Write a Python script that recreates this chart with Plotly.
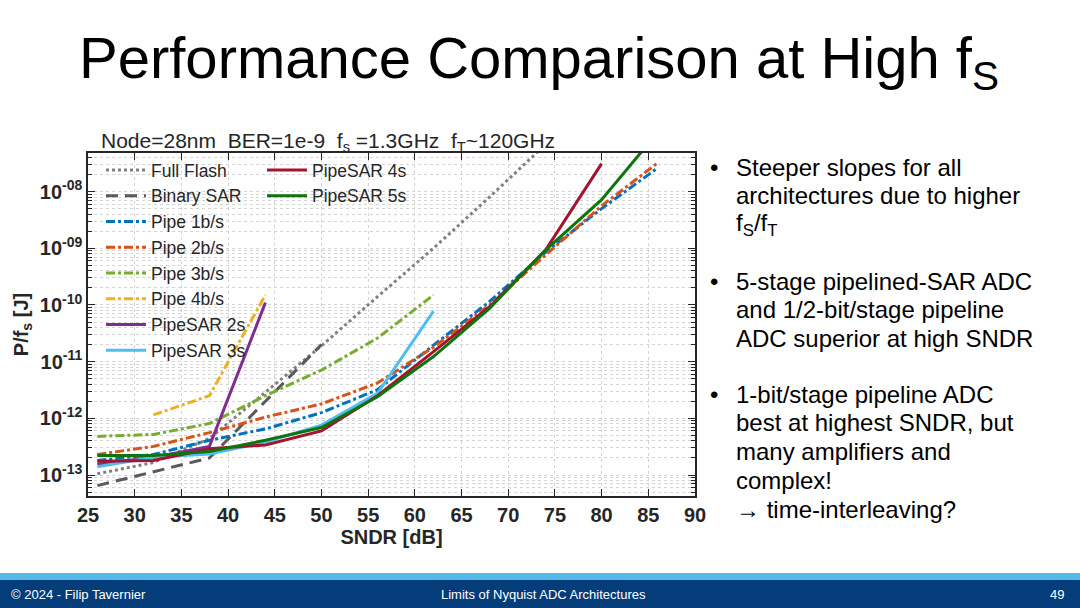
import plotly.graph_objects as go

# ---------------- data (SNDR in dB, P/fs in J) ----------------
sndr_flash = [26, 32, 38, 44, 50, 56, 62, 68, 74]
full_flash = [1.05e-13, 1.66e-13, 4.4e-13, 2.9e-12, 1.9e-11, 1.4e-10, 1.0e-9, 8.0e-9, 6.8e-8]

sndr_bsar = [26, 32, 38, 44, 50]
binary_sar = [6.5e-14, 1.15e-13, 2.0e-13, 2.0e-12, 2.0e-11]

sndr_pipe12 = [26, 32, 38, 44, 50, 56, 62, 68, 74, 80, 86]
pipe_1b = [1.8e-13, 2.3e-13, 4.1e-13, 6.5e-13, 1.26e-12, 3.2e-12, 1.95e-11, 1.15e-10, 8.5e-10, 5.0e-9, 2.6e-8]
pipe_2b = [2.3e-13, 3.2e-13, 5.6e-13, 1.05e-12, 1.8e-12, 4.2e-12, 1.8e-11, 1.0e-10, 7.6e-10, 5.6e-9, 3.2e-8]

sndr_pipe3 = [26, 32, 38, 44, 50, 56, 62]
pipe_3b = [4.8e-13, 5.2e-13, 8.1e-13, 2.5e-12, 7.1e-12, 2.6e-11, 1.5e-10]

sndr_pipe4 = [32, 38, 44]
pipe_4b = [1.15e-12, 2.5e-12, 1.5e-10]

sndr_psar2 = [26, 32, 38, 44]
pipesar_2s = [1.55e-13, 2.05e-13, 3.2e-13, 1.1e-10]

sndr_psar3 = [26, 32, 38, 44, 50, 56, 62]
pipesar_3s = [1.4e-13, 2.05e-13, 2.35e-13, 3.8e-13, 7.6e-13, 2.75e-12, 7.8e-11]

sndr_psar4 = [26, 32, 38, 44, 50, 56, 62, 68, 74, 80]
pipesar_4s = [1.75e-13, 1.8e-13, 2.9e-13, 3.4e-13, 6.0e-13, 2.5e-12, 1.5e-11, 9.3e-11, 9.3e-10, 3.1e-8]

sndr_psar5 = [26, 32, 38, 44, 50, 56, 62, 68, 74, 80, 86]
pipesar_5s = [2.2e-13, 2.2e-13, 2.6e-13, 4.1e-13, 6.9e-13, 2.4e-12, 1.23e-11, 8.7e-11, 9.3e-10, 7.2e-9, 1.1e-7]

x_ticks = [25, 30, 35, 40, 45, 50, 55, 60, 65, 70, 75, 80, 85, 90]
y_tickvals = [1e-13, 1e-12, 1e-11, 1e-10, 1e-9, 1e-8]
y_ticktext = ["10<sup>-13</sup>", "10<sup>-12</sup>", "10<sup>-11</sup>",
              "10<sup>-10</sup>", "10<sup>-09</sup>", "10<sup>-08</sup>"]
y_minor = [m * 10.0 ** e for e in range(-14, -6) for m in range(2, 10)]

bullets = [
    ["Steeper slopes for all", "architectures due to higher", "f<sub>S</sub>/f<sub>T</sub>"],
    ["5-stage pipelined-SAR ADC", "and 1/2-bit/stage pipeline", "ADC superior at high SNDR"],
    ["1-bit/stage pipeline ADC", "best at highest SNDR, but", "many amplifiers and",
     "complex!", "\u2192 time-interleaving?"],
]

# ---------------- layout geometry ----------------
W, H = 1080, 608
L, R, T, B = 88, 695, 153, 496
FONT = "Liberation Sans, Arial, Helvetica, sans-serif"


def xp(px):
    return (px - L) / (R - L)


def yp(py):
    return (B - py) / (B - T)


fig = go.Figure()

series = [
    ("Full Flash", sndr_flash, full_flash, "#808080", "dot", 3, "legend"),
    ("Binary SAR", sndr_bsar, binary_sar, "#5a5a5a", "12px,7px", 3, "legend"),
    ("Pipe 1b/s", sndr_pipe12, pipe_1b, "#0072BD", "dashdot", 3, "legend"),
    ("Pipe 2b/s", sndr_pipe12, pipe_2b, "#D95319", "dashdot", 3, "legend"),
    ("Pipe 3b/s", sndr_pipe3, pipe_3b, "#77AC30", "dashdot", 3, "legend"),
    ("Pipe 4b/s", sndr_pipe4, pipe_4b, "#EDB120", "dashdot", 3, "legend"),
    ("PipeSAR 2s", sndr_psar2, pipesar_2s, "#7E2F8E", "solid", 3, "legend"),
    ("PipeSAR 3s", sndr_psar3, pipesar_3s, "#4DBEEE", "solid", 3, "legend"),
    ("PipeSAR 4s", sndr_psar4, pipesar_4s, "#A2142F", "solid", 3, "legend2"),
    ("PipeSAR 5s", sndr_psar5, pipesar_5s, "#0E750E", "solid", 3, "legend2"),
]
for name, xs, ys, col, dash, w, lg in series:
    fig.add_trace(go.Scatter(x=xs, y=ys, mode="lines", name=name,
                             line=dict(color=col, dash=dash, width=w),
                             legend=lg, cliponaxis=True))

axis_col = "#262626"
grid_col = "#d4d4d4"

fig.update_xaxes(
    range=[25, 90], tickvals=x_ticks, ticks="inside", ticklen=7, tickwidth=1,
    tickcolor=axis_col, showline=True, linecolor=axis_col, linewidth=1.5, mirror="allticks",
    showgrid=True, gridcolor=grid_col, griddash="dot", gridwidth=1,
    tickfont=dict(family=FONT, size=20, color=axis_col, weight="bold"),
    title=dict(text="<b>SNDR [dB]</b>", font=dict(family=FONT, size=20, color=axis_col), standoff=0),
    zeroline=False, automargin=False,
)
fig.update_yaxes(
    type="log", range=[-13.37, -7.32], tickvals=y_tickvals, ticktext=y_ticktext,
    ticks="inside", ticklen=7, tickwidth=1, tickcolor=axis_col,
    showline=True, linecolor=axis_col, linewidth=1.5, mirror="allticks",
    showgrid=True, gridcolor=grid_col, griddash="dot", gridwidth=1,
    minor=dict(tickvals=y_minor, ticks="inside", ticklen=4, tickcolor=axis_col,
               showgrid=True, gridcolor=grid_col, griddash="dot", gridwidth=1),
    tickfont=dict(family=FONT, size=20, color=axis_col, weight="bold"),
    title=dict(text="<b>P/f<sub>s</sub> [J]</b>", font=dict(family=FONT, size=20, color=axis_col), standoff=6),
    zeroline=False, automargin=False,
)

legend_common = dict(bgcolor="rgba(0,0,0,0)", borderwidth=0, itemwidth=40,
                     font=dict(family=FONT, size=17.5, color=axis_col),
                     tracegroupgap=0, yanchor="top", xanchor="left",
                     itemclick=False, itemdoubleclick=False)

fig.update_layout(
    width=W, height=H,
    margin=dict(l=L, r=W - R, t=T, b=H - B, pad=0, autoexpand=False),
    paper_bgcolor="white", plot_bgcolor="white",
    font=dict(family=FONT, color=axis_col),
    showlegend=True,
    legend=dict(x=xp(101), y=yp(152), **legend_common),
    legend2=dict(x=xp(262), y=yp(152), **legend_common),
)

annotations = []
# slide title
annotations.append(dict(
    text="Performance Comparison at High f<sub>S</sub>", x=xp(539), y=yp(62),
    xref="paper", yref="paper", xanchor="center", yanchor="middle", showarrow=False,
    font=dict(family=FONT, size=58, color="black")))
# chart title
nb = "\u00a0"
annotations.append(dict(
    text=f"Node=28nm{nb*2}BER=1e-9{nb*2}f<sub>s</sub>{nb}=1.3GHz{nb*2}f<sub>T</sub>~120GHz",
    x=xp(99), y=yp(142), xref="paper", yref="paper", xanchor="left", yanchor="middle",
    showarrow=False, font=dict(family=FONT, size=21, color=axis_col)))

# bullets
line_h = 28.8
starts = [167, 281, 394]
for blk, y0 in zip(bullets, starts):
    annotations.append(dict(
        text="\u2022", x=xp(714), y=yp(y0), xref="paper", yref="paper",
        xanchor="center", yanchor="middle", showarrow=False,
        font=dict(family=FONT, size=24, color="black")))
    for i, ln in enumerate(blk):
        annotations.append(dict(
            text=ln, x=xp(734), y=yp(y0 + i * line_h), xref="paper", yref="paper",
            xanchor="left", yanchor="middle", showarrow=False,
            font=dict(family=FONT, size=24, color="black")))

# footer texts
for txt, x, anc in [("\u00a9 2024 - Filip Tavernier", 9, "left"),
                    ("Limits of Nyquist ADC Architectures", 543, "center"),
                    ("49", 1066, "right")]:
    annotations.append(dict(
        text=txt, x=xp(x), y=yp(594), xref="paper", yref="paper",
        xanchor=anc, yanchor="middle", showarrow=False,
        font=dict(family=FONT, size=13, color="white")))

fig.update_layout(annotations=annotations)

# footer bands
fig.add_shape(type="rect", xref="paper", yref="paper", x0=xp(0), x1=xp(W),
              y0=yp(580), y1=yp(573), fillcolor="#56B9EA", line=dict(width=0), layer="below")
fig.add_shape(type="rect", xref="paper", yref="paper", x0=xp(0), x1=xp(W),
              y0=yp(H + 2), y1=yp(580), fillcolor="#043D7A", line=dict(width=0), layer="below")

fig.write_html("out.html", config={"displayModeBar": False},
               post_script="document.body.style.margin='0';document.body.style.overflow='hidden';")
